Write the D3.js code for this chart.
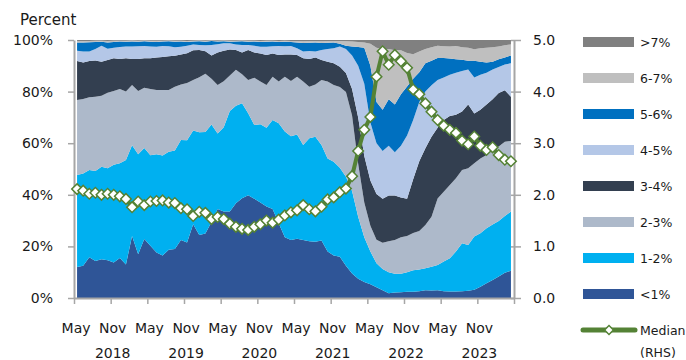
<!DOCTYPE html>
<html>
<head>
<meta charset="utf-8">
<script src="https://cdn.jsdelivr.net/npm/d3@7"></script>
<style>
    body { margin: 0; background: #ffffff; }
    svg text { font-family: 'DejaVu Sans', sans-serif; fill: #1a1a1a; }
</style>
</head>
<body>
<div id="chart"></div>
<script>
// Shares of respondents by expected inflation bucket, monthly May 2018 - Apr 2024 (percent)
const bucketNames = ['<1%', '1-2%', '2-3%', '3-4%', '4-5%', '5-6%', '6-7%', '>7%']
const bucketColors = ['#2f5597', '#00b0f0', '#adb9ca', '#333f50', '#b4c7e7', '#0070c0', '#bfbfbf', '#808080']

const below1 = [12.0, 12.5, 15.8, 14.3, 15.0, 14.6, 13.8, 15.5, 13.0, 24.0,
    17.0, 22.9, 20.3, 17.6, 16.5, 18.7, 19.0, 22.5, 21.5, 28.6,
    24.4, 25.0, 29.5, 34.5, 33.5, 33.5, 36.7, 38.7, 39.8, 38.5,
    37.0, 35.5, 34.5, 29.0, 23.5, 22.5, 23.0, 22.5, 22.0, 21.8,
    22.3, 18.0, 16.5, 16.0, 12.5, 9.5, 7.5, 6.2, 5.3, 4.2,
    3.0, 1.8, 2.1, 2.2, 2.4, 2.4, 2.6, 3.0, 2.9, 3.0,
    2.6, 2.5, 2.5, 2.6, 2.8, 3.2, 4.4, 5.7, 7.0, 8.3,
    9.8, 10.6]
const from1to2 = [35.7, 35.8, 33.8, 34.9, 35.9, 35.7, 37.8, 36.7, 40.5, 35.2,
    38.7, 35.2, 35.0, 38.1, 38.7, 38.0, 38.2, 38.7, 39.6, 36.3,
    39.8, 39.3, 37.7, 29.3, 32.7, 39.0, 37.8, 36.8, 31.8, 28.6,
    30.3, 30.5, 34.5, 38.7, 41.0, 40.2, 40.4, 36.8, 39.9, 40.7,
    37.0, 36.1, 36.3, 34.5, 34.5, 32.0, 24.0, 17.3, 12.7, 9.3,
    8.2, 8.2, 7.3, 7.2, 7.6, 8.4, 8.4, 8.5, 9.2, 9.8,
    11.5, 12.9, 15.5, 18.6, 17.7, 20.6, 20.7, 21.3, 21.5, 21.5,
    22.0, 22.9]
const from2to3 = [29.0, 28.8, 28.2, 28.8, 27.5, 29.3, 28.6, 28.8, 26.5, 23.4,
    24.5, 23.4, 25.7, 24.9, 25.4, 23.9, 24.7, 21.6, 22.2, 19.6,
    21.4, 22.6, 17.8, 18.8, 17.8, 13.7, 14.0, 11.2, 12.9, 18.3,
    16.6, 16.6, 16.8, 16.2, 21.3, 21.4, 22.4, 24.6, 20.0, 20.3,
    25.2, 29.8, 29.8, 31.3, 32.8, 29.2, 20.5, 13.5, 10.0, 9.1,
    10.2, 12.0, 13.1, 14.1, 14.0, 14.4, 15.0, 16.8, 19.4, 25.8,
    27.1, 28.4, 28.4, 28.4, 29.8, 28.4, 29.0, 28.4, 28.9, 28.9,
    28.8, 27.4]
const from3to4 = [15.2, 14.2, 14.1, 14.1, 13.2, 12.6, 12.7, 11.6, 12.9, 10.0,
    12.4, 11.4, 11.9, 12.6, 12.8, 13.1, 12.0, 11.6, 11.6, 11.5,
    10.5, 8.7, 9.0, 12.6, 11.8, 10.1, 7.6, 8.5, 11.6, 9.8,
    10.9, 11.6, 9.0, 10.3, 8.6, 10.3, 8.4, 9.0, 10.7, 10.4,
    7.7, 7.7, 8.4, 7.8, 7.4, 10.3, 18.0, 18.0, 17.5, 17.7,
    17.1, 17.7, 17.2, 15.5, 14.5, 20.8, 27.0, 29.7, 31.0, 27.4,
    27.8, 26.7, 24.6, 22.7, 24.7, 19.3, 18.9, 19.6, 19.6, 20.8,
    19.9, 17.1]
const from4to5 = [3.9, 4.2, 3.6, 4.4, 6.2, 4.4, 4.1, 4.7, 4.6, 4.9,
    5.0, 4.8, 4.6, 4.2, 4.3, 3.9, 3.3, 3.0, 2.9, 2.3,
    2.0, 2.4, 4.1, 3.2, 2.9, 2.4, 2.2, 2.9, 2.0, 2.6,
    2.6, 3.2, 2.8, 3.5, 3.2, 3.3, 2.6, 2.6, 3.1, 2.3,
    3.9, 4.9, 5.8, 7.9, 9.3, 13.0, 20.0, 28.0, 22.5, 19.7,
    18.5, 19.3, 16.8, 20.0, 24.5, 23.0, 23.0, 22.0, 20.0, 18.5,
    16.5, 16.0, 16.3, 15.7, 13.6, 14.0, 13.5, 12.3, 11.6, 10.0,
    10.0, 13.0]
const from5to6 = [3.2, 3.5, 3.6, 2.7, 1.5, 2.4, 2.2, 2.1, 1.8, 1.9,
    1.7, 1.8, 1.8, 1.8, 1.7, 1.9, 2.1, 2.0, 1.4, 1.1,
    1.4, 1.3, 1.5, 1.0, 0.8, 0.6, 1.1, 1.4, 1.2, 1.6,
    1.8, 1.9, 1.8, 1.5, 1.7, 1.5, 2.2, 3.3, 3.2, 3.5,
    2.7, 2.4, 2.2, 1.0, 1.3, 3.5, 7.3, 14.0, 22.0, 16.0,
    16.0, 18.0, 18.5, 20.0, 19.0, 16.0, 11.5, 11.0, 9.5, 8.5,
    7.5, 6.3, 5.2, 4.3, 3.4, 6.5, 5.1, 4.0, 3.0, 3.0,
    2.7, 3.0]
const from6to7 = [0.6, 0.6, 0.5, 0.5, 0.4, 0.6, 0.5, 0.3, 0.4, 0.4,
    0.4, 0.3, 0.4, 0.5, 0.3, 0.3, 0.4, 0.3, 0.4, 0.3,
    0.3, 0.4, 0.2, 0.3, 0.3, 0.4, 0.3, 0.3, 0.4, 0.3,
    0.4, 0.4, 0.3, 0.4, 0.4, 0.4, 0.6, 0.7, 0.7, 0.6,
    0.7, 0.7, 0.6, 1.1, 1.7, 1.9, 1.9, 2.0, 8.5, 21.0,
    23.5, 19.5, 21.0, 17.0, 13.0, 9.5, 8.0, 5.5, 5.2, 4.8,
    4.6, 4.7, 5.2, 4.9, 5.0, 4.4, 5.2, 5.7, 5.6, 5.0,
    4.8, 4.3]
const above7 = [0.4, 0.4, 0.4, 0.3, 0.3, 0.4, 0.3, 0.3, 0.3, 0.2,
    0.3, 0.2, 0.3, 0.3, 0.3, 0.2, 0.3, 0.3, 0.4, 0.3,
    0.2, 0.3, 0.2, 0.3, 0.2, 0.3, 0.3, 0.2, 0.3, 0.3,
    0.4, 0.3, 0.3, 0.4, 0.3, 0.4, 0.4, 0.5, 0.4, 0.4,
    0.5, 0.4, 0.4, 0.4, 0.5, 0.6, 0.8, 1.0, 1.5, 3.0,
    3.5, 3.5, 4.0, 4.0, 5.0, 5.5, 4.5, 3.5, 2.8, 2.2,
    2.4, 2.5, 2.3, 2.8, 3.0, 3.6, 3.2, 3.0, 2.8, 2.5,
    2.0, 1.7]

// Median expectation, right hand scale
const median = [2.11, 2.08, 2.02, 2.04, 2.00, 2.02, 2.00, 1.97, 1.92, 1.76,
    1.87, 1.80, 1.87, 1.88, 1.89, 1.85, 1.84, 1.74, 1.72, 1.59,
    1.67, 1.65, 1.53, 1.57, 1.53, 1.44, 1.38, 1.34, 1.32, 1.38,
    1.43, 1.50, 1.46, 1.52, 1.60, 1.66, 1.70, 1.80, 1.72, 1.68,
    1.77, 1.91, 1.95, 2.05, 2.12, 2.36, 2.85, 3.26, 3.51, 4.29,
    4.78, 4.52, 4.71, 4.59, 4.46, 4.04, 3.95, 3.77, 3.61, 3.45,
    3.34, 3.26, 3.20, 3.05, 2.98, 3.13, 2.95, 2.87, 2.92, 2.77,
    2.68, 2.65]

const monthTickLabels = ['May', 'Nov', 'May', 'Nov', 'May', 'Nov', 'May', 'Nov', 'May', 'Nov', 'May', 'Nov']
const yearLabels = ['2018', '2019', '2020', '2021', '2022', '2023']
const leftTicks = [0, 0.2, 0.4, 0.6, 0.8, 1]
const rightTicks = [0, 1, 2, 3, 4, 5]

const seriesValues = [below1, from1to2, from2to3, from3to4, from4to5, from5to6, from6to7, above7]
const months = d3.timeMonth.range(new Date(2018, 4, 1), new Date(2024, 4, 1))

class ExpectationsChart {
    constructor(width, height, divElementName) {
        this.width = width
        this.height = height
        this.divElementName = divElementName
        this.axisColor = '#a6a6a6'
        this.medianColor = '#548235'
        this.initialize()
    }

    initialize = () => {
        this.setAxesStartAndEnd()
        this.createSVGInstance()
        this.createScales()
        this.drawAreas()
        this.drawAxes()
        this.drawMedian()
        this.drawLegend()
    }

    setAxesStartAndEnd = () => {
        this.xAxisStart = 74
        this.xAxisEnd = 514
        this.yAxisStart = 298
        this.yAxisEnd = 40
    }

    createSVGInstance = () => {
        this.svg = d3.select(this.divElementName).append('svg')
            .attr('width', this.width).attr('height', this.height)
            .style('font-size', '14px')
    }

    createScales = () => {
        this.xBand = d3.scaleBand().domain(d3.range(months.length)).range([this.xAxisStart, this.xAxisEnd])
        this.xTick = d3.scaleLinear().domain([0, months.length]).range([this.xAxisStart, this.xAxisEnd])
        this.yScale = d3.scaleLinear().domain([0, 1]).range([this.yAxisStart, this.yAxisEnd])
        this.yRight = d3.scaleLinear().domain([0, 5]).range([this.yAxisStart, this.yAxisEnd])
    }

    xCenter = (i) => {
        return this.xBand(i) + this.xBand.bandwidth() / 2
    }

    drawAreas = () => {
        let rows = months.map((m, i) => {
            let row = { month: m }
            bucketNames.forEach((name, k) => { row[name] = seriesValues[k][i] })
            return row
        })
        let stacked = d3.stack().keys(bucketNames).offset(d3.stackOffsetExpand)(rows)
        let area = d3.area()
            .x((d, i) => this.xCenter(i))
            .y0(d => this.yScale(d[0]))
            .y1(d => this.yScale(d[1]))
        this.svg.append('g').selectAll('path').data(stacked).join('path')
            .attr('d', area)
            .attr('fill', (d, k) => bucketColors[k])
    }

    styleAxis = (g) => {
        g.select('.domain').attr('stroke', this.axisColor).attr('stroke-width', 2)
        g.selectAll('.tick line').attr('stroke', this.axisColor).attr('stroke-width', 1.5)
        g.selectAll('.tick text').attr('fill', '#1a1a1a').style('font-size', '14px')
    }

    drawAxes = () => {
        let left = d3.axisLeft(this.yScale).tickValues(leftTicks).tickFormat(d3.format('.0%'))
            .tickSize(6).tickSizeOuter(0).tickPadding(15)
        this.svg.append('g').attr('transform', 'translate(' + this.xAxisStart + ',0)').call(left).call(this.styleAxis)

        let right = d3.axisRight(this.yRight).tickValues(rightTicks).tickFormat(d3.format('.1f'))
            .tickSize(7).tickSizeOuter(0).tickPadding(12)
        let rg = this.svg.append('g').attr('transform', 'translate(' + this.xAxisEnd + ',0)').call(right).call(this.styleAxis)
        rg.selectAll('.tick line').attr('x1', -3)

        let tickIdx = d3.range(0, months.length + 1, 6)
        let bottom = d3.axisBottom(this.xTick).tickValues(tickIdx).tickFormat('')
            .tickSize(6).tickSizeOuter(0)
        this.svg.append('g').attr('transform', 'translate(0,' + this.yAxisStart + ')').call(bottom).call(this.styleAxis)

        this.svg.append('g').selectAll('text').data(monthTickLabels).join('text')
            .attr('x', (d, k) => this.xCenter(k * 6) - 1)
            .attr('y', 333)
            .attr('text-anchor', 'middle')
            .text(d => d)

        this.svg.append('g').selectAll('text').data(yearLabels).join('text')
            .attr('x', (d, k) => this.xCenter(k * 12 + 6) - 1)
            .attr('y', 358)
            .attr('text-anchor', 'middle')
            .text(d => d)

        this.svg.append('text').attr('x', 20).attr('y', 25).style('font-size', '15px').text('Percent')
    }

    drawMedian = () => {
        let line = d3.line().x((d, i) => this.xCenter(i)).y(d => this.yRight(d))
        this.svg.append('path').datum(median)
            .attr('d', line).attr('fill', 'none')
            .attr('stroke', this.medianColor).attr('stroke-width', 4).attr('stroke-linejoin', 'round')
        let marker = d3.symbol(d3.symbolSquare, 56)
        this.svg.append('g').selectAll('path').data(median).join('path')
            .attr('d', marker)
            .attr('transform', (d, i) => 'translate(' + this.xCenter(i) + ',' + this.yRight(d) + ') rotate(45)')
            .attr('fill', '#ffffff')
            .attr('stroke', this.medianColor)
            .attr('stroke-width', 1.5)
    }

    drawLegend = () => {
        let order = d3.range(bucketNames.length).reverse()
        let g = this.svg.append('g').style('font-size', '12.5px')
        order.forEach((k, row) => {
            let cy = 42 + row * 36
            g.append('rect').attr('x', 583).attr('y', cy - 5).attr('width', 51).attr('height', 10)
                .attr('fill', bucketColors[k])
            g.append('text').attr('x', 640).attr('y', cy + 5).text(bucketNames[k])
        })
        let my = 330
        g.append('line').attr('x1', 583).attr('x2', 635).attr('y1', my).attr('y2', my)
            .attr('stroke', this.medianColor).attr('stroke-width', 5).attr('stroke-linecap', 'round')
        g.append('path').attr('d', d3.symbol(d3.symbolSquare, 40))
            .attr('transform', 'translate(609,' + my + ') rotate(45)')
            .attr('fill', '#ffffff').attr('stroke', this.medianColor).attr('stroke-width', 1.5)
        g.append('text').attr('x', 640).attr('y', my + 5).text('Median')
        g.append('text').attr('x', 640).attr('y', 357).text('(RHS)')
    }
}

new ExpectationsChart(686, 360, '#chart')
</script>
</body>
</html>
